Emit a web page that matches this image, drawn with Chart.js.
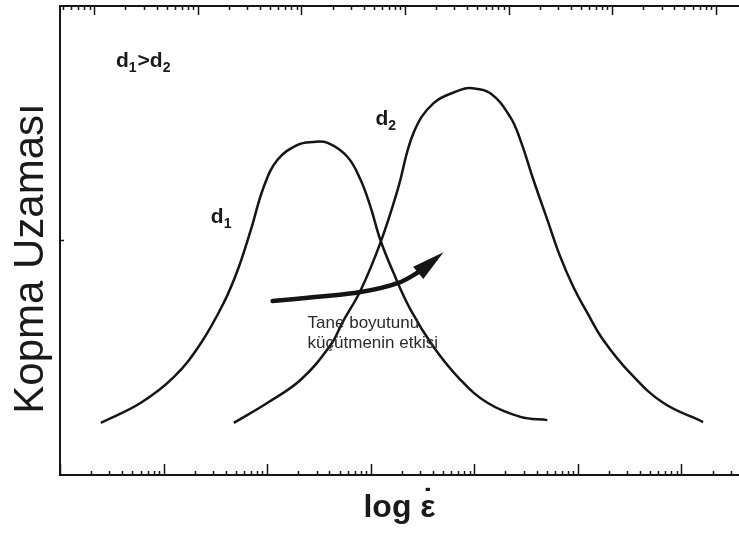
<!DOCTYPE html>
<html>
<head>
<meta charset="utf-8">
<script src="https://cdn.jsdelivr.net/npm/chart.js@4.4.1/dist/chart.umd.min.js"></script>
<style>
  body { margin: 0; background: #fff; }
</style>
</head>
<body>
<canvas id="sunekChart" width="739" height="537"></canvas>
<script>
const renkCizgi = '#151515';
const renkYazi = '#1a1a1a';
const yaziAilesi = '"Liberation Sans", Arial, sans-serif';

// deformasyon hizi (s^-1) ve kopma uzamasi (%)
const d1Hiz = [2.48e-6, 6.04e-6, 1.26e-5, 2.29e-5, 3.81e-5, 5.20e-5, 6.95e-5, 9.27e-5, 1.26e-4, 1.97e-4, 2.75e-4, 3.84e-4,
  5.98e-4, 8.00e-4, 9.98e-4, 1.24e-3, 1.66e-3, 2.43e-3, 4.05e-3, 7.36e-3, 1.34e-2, 2.79e-2, 5.08e-2];
const d1Uzama = [11.1, 15.4, 20.9, 28.1, 36.7, 43.7, 52.2, 61.4, 67.2, 70.4, 71.0, 70.8,
  67.8, 62.9, 57.1, 50.1, 43.1, 35.2, 27.3, 20.3, 15.4, 12.4, 11.7];

const d2Hiz = [4.77e-5, 1.01e-4, 2.11e-4, 4.10e-4, 5.36e-4, 8.00e-4, 1.24e-3, 1.82e-3, 2.59e-3, 4.05e-3, 7.36e-3, 9.18e-3,
  1.43e-2, 2.23e-2, 2.79e-2, 3.73e-2, 5.08e-2, 6.78e-2, 9.06e-2, 0.124, 0.176, 0.321, 0.667, 1.62];
const d2Uzama = [11.1, 15.4, 20.3, 27.7, 32.6, 39.4, 49.5, 60.8, 72.9, 79.3, 82.1, 82.5,
  81.4, 76.3, 71.4, 62.9, 54.4, 46.5, 40.1, 34.5, 28.8, 21.7, 15.4, 11.3];

// ok: tane boyutunu kucultmenin etkisi
const okHiz = [1.13e-4, 3.08e-4, 8.00e-4, 1.82e-3, 3.03e-3];
const okUzama = [37.1, 38.0, 39.0, 40.9, 43.5];
const okUcu = { x: 5.05e-3, y: 47.5 };

const yCentik = [0, 50, 100];

// yazilar (konum veri biriminde)
const notlar = [
  { x: 3.47e-6, y: 87.0, parca: [['d', 0], ['1', 1], ['>', 0], ['d', 0], ['2', 1]] },
  { x: 2.86e-5, y: 53.7, parca: [['d', 0], ['1', 1]] },
  { x: 1.11e-3, y: 74.6, parca: [['d', 0], ['2', 1]] }
];
const aciklama = ['Tane boyutunu', 'küçütmenin etkisi'];

const xy = (xs, ys) => xs.map((x, i) => ({ x: x, y: ys[i] }));

function altliYaz(ctx, parca, x, y, boy) {
  parca.forEach(([t, alt]) => {
    ctx.font = 'bold ' + (alt ? Math.round(boy * 0.66) : boy) + 'px ' + yaziAilesi;
    ctx.fillText(t, x, alt ? y + 5 : y);
    x += ctx.measureText(t).width + (alt ? 1 : 0);
  });
}

function logCentik(ctx, olcek, y0, yon, uzun, kisa) {
  const n0 = Math.floor(Math.log10(olcek.min));
  const n1 = Math.ceil(Math.log10(olcek.max));
  for (let n = n0; n <= n1; n++) {
    for (let k = 1; k <= 9; k++) {
      const v = k * Math.pow(10, n);
      if (v < olcek.min || v > olcek.max) continue;
      const px = Math.round(olcek.getPixelForValue(v)) + 0.5;
      ctx.beginPath();
      ctx.moveTo(px, y0);
      ctx.lineTo(px, y0 + yon * (k === 1 ? uzun : kisa));
      ctx.stroke();
    }
  }
}

const cerceve = {
  id: 'cerceve',
  afterDatasetsDraw(chart) {
    const { ctx, chartArea: a, scales } = chart;
    const sx = scales.x, sy = scales.y;
    ctx.save();
    ctx.strokeStyle = renkCizgi;
    ctx.lineWidth = 2;
    ctx.beginPath();
    ctx.moveTo(chart.width, a.top);
    ctx.lineTo(a.left, a.top);
    ctx.lineTo(a.left, a.bottom);
    ctx.lineTo(chart.width, a.bottom);
    ctx.stroke();

    ctx.lineWidth = 1.5;
    logCentik(ctx, sx, a.bottom, -1, 11, 4);
    logCentik(ctx, scales.x2, a.top, 1, 9, 4);
    yCentik.forEach(v => {
      const py = sy.getPixelForValue(v);
      ctx.beginPath();
      ctx.moveTo(a.left, py);
      ctx.lineTo(a.left + 4, py);
      ctx.stroke();
    });

    // ok basi
    const bx = sx.getPixelForValue(okHiz[okHiz.length - 1]);
    const by = sy.getPixelForValue(okUzama[okUzama.length - 1]);
    const tx = sx.getPixelForValue(okUcu.x);
    const ty = sy.getPixelForValue(okUcu.y);
    const L = Math.hypot(tx - bx, ty - by);
    const ux = (tx - bx) / L, uy = (ty - by) / L;
    const w = 8;
    ctx.fillStyle = renkCizgi;
    ctx.beginPath();
    ctx.moveTo(tx, ty);
    ctx.lineTo(bx - ux * 3 - uy * w, by - uy * 3 + ux * w);
    ctx.lineTo(bx - ux * 3 + uy * w, by - uy * 3 - ux * w);
    ctx.closePath();
    ctx.fill();

    // yazilar
    ctx.fillStyle = renkYazi;
    ctx.textBaseline = 'alphabetic';
    ctx.textAlign = 'left';
    notlar.forEach(n => altliYaz(ctx, n.parca, sx.getPixelForValue(n.x), sy.getPixelForValue(n.y), 21));

    ctx.fillStyle = '#2b2b2b';
    ctx.font = '17px ' + yaziAilesi;
    const ax = sx.getPixelForValue(2.46e-4);
    ctx.fillText(aciklama[0], ax, sy.getPixelForValue(31.3));
    ctx.fillText(aciklama[1], ax, sy.getPixelForValue(27.1));

    // x ekseni basligi: log ε̇
    ctx.fillStyle = renkYazi;
    ctx.font = 'bold 32px ' + yaziAilesi;
    const t1 = 'log ', t2 = 'ε';
    const w1 = ctx.measureText(t1).width, w2 = ctx.measureText(t2).width;
    const x0 = (a.left + a.right) / 2 - (w1 + w2) / 2;
    const yb = a.bottom + 42;
    ctx.fillText(t1, x0, yb);
    ctx.fillText(t2, x0 + w1, yb);
    ctx.textAlign = 'center';
    ctx.fillText('˙', x0 + w1 + w2 / 2, yb - 6);

    // y ekseni basligi
    ctx.font = '42px ' + yaziAilesi;
    ctx.translate(a.left - 17, (a.top + a.bottom) / 2 + 18);
    ctx.rotate(-Math.PI / 2);
    ctx.textAlign = 'center';
    ctx.fillText('Kopma Uzaması', 0, 0);
    ctx.restore();
  }
};

const ctx = document.getElementById('sunekChart');

new Chart(ctx, {
  type: 'line',
  data: {
    datasets: [
      { label: 'd1', data: xy(d1Hiz, d1Uzama), borderColor: renkCizgi, borderWidth: 2.5, pointRadius: 0, tension: 0.4 },
      { label: 'd2', data: xy(d2Hiz, d2Uzama), borderColor: renkCizgi, borderWidth: 2.5, pointRadius: 0, tension: 0.4 },
      { label: 'ok', data: xy(okHiz, okUzama), borderColor: renkCizgi, borderWidth: 4.5, pointRadius: 0, tension: 0.4, borderCapStyle: 'round' }
    ]
  },
  options: {
    responsive: false,
    animation: false,
    layout: { padding: { left: 60, top: 6, right: 0, bottom: 62 } },
    plugins: {
      legend: { display: false },
      tooltip: { enabled: false }
    },
    scales: {
      x: {
        type: 'logarithmic',
        display: false,
        min: 1e-6,
        max: 3.6
      },
      x2: {
        type: 'logarithmic',
        position: 'top',
        display: false,
        min: 4.67e-7,
        max: 1.68
      },
      y: {
        type: 'linear',
        display: false,
        min: 0,
        max: 100
      }
    }
  },
  plugins: [cerceve]
});
</script>
</body>
</html>
